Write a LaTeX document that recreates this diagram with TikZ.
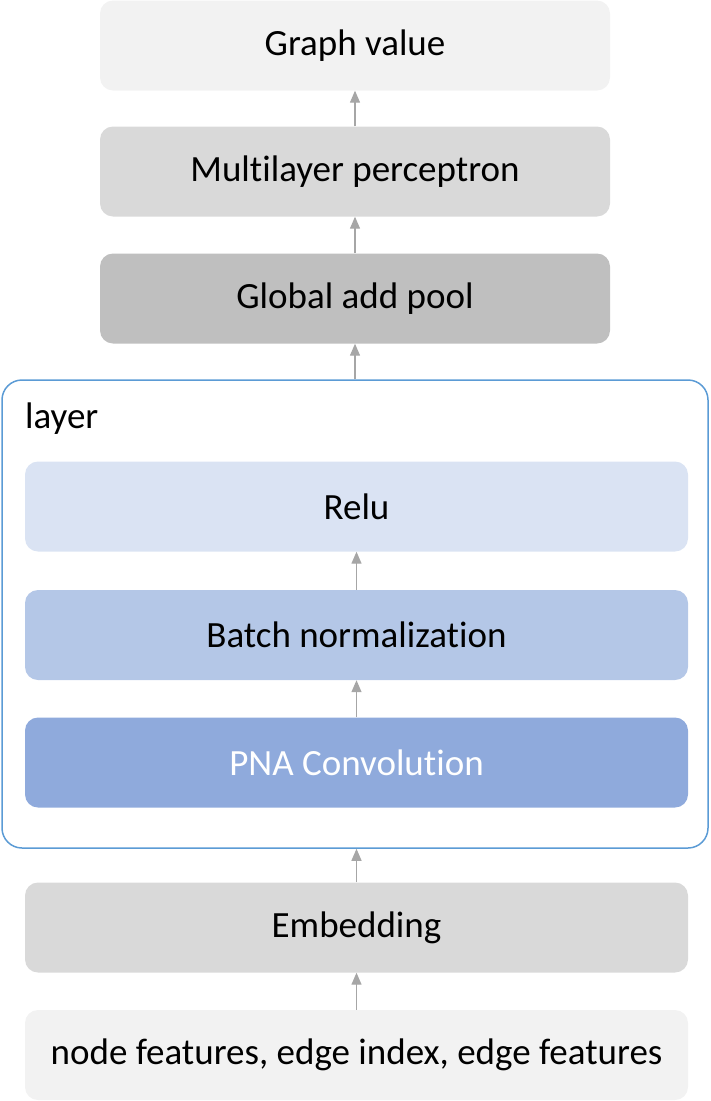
\documentclass[tikz,border=0pt]{standalone}
\usepackage{fontspec}
\setmainfont{Carlito}[Ligatures=NoCommon]
\usepackage{tikz}
\usetikzlibrary{positioning, calc, arrows.meta}
\definecolor{boxlight}{HTML}{F2F2F2}
\definecolor{boxmid}{HTML}{D9D9D9}
\definecolor{boxdark}{HTML}{BFBFBF}
\definecolor{bluelight}{HTML}{DAE3F3}
\definecolor{bluemid}{HTML}{B4C7E7}
\definecolor{bluedark}{HTML}{8FAADC}
\definecolor{layerline}{HTML}{5B9BD5}
\definecolor{arrowgray}{HTML}{A6A6A6}

\begin{document}
\begin{tikzpicture}[x=1pt, y=-1pt,
    font=\fontsize{37}{44}\selectfont,
    blk/.style={rectangle, rounded corners=13pt, inner sep=0pt, text=black},
    narrow/.style={blk, minimum width=510pt, minimum height=90pt},
    wide/.style={blk, minimum width=663pt, minimum height=90pt},
    ->/.style={draw=arrowgray, line width=1.3pt, -{Triangle[width=10pt,length=12pt]}}]
      \useasboundingbox (0,0) rectangle (710,1101);

      \node[narrow, fill=boxlight] (GV) at (355,45.5) {Graph value};
      \node[narrow, fill=boxmid] (MLP) at (355,171.5) {Multilayer perceptron};
      \node[narrow, fill=boxdark] (GAP) at (355,298.5) {Global add pool};

      \node[rectangle, rounded corners=20pt, draw=layerline, line width=1.5pt,
            minimum width=706pt, minimum height=468pt] (Layer) at (355,614) {};
      \node[anchor=base west, inner sep=0pt] (LayerLbl) at (25,428) {layer};

      \node[wide, fill=bluelight] (Relu) at (356.5,506.5) {Relu};
      \node[wide, fill=bluemid] (BN) at (356.5,635) {Batch normalization};
      \node[wide, fill=bluedark, text=white] (PNA) at (356.5,762.5) {PNA Convolution};

      \node[wide, fill=boxmid] (Emb) at (356.5,927.5) {Embedding};
      \node[wide, fill=boxlight] (Inp) at (356.5,1055) {node features, edge index, edge features};

      \draw[->] (node cs:name=Inp) -- (node cs:name=Emb);
      \draw[->] (Emb.north) -- (Emb.north |- Layer.south);
      \draw[->] (node cs:name=PNA) -- (node cs:name=BN);
      \draw[->] (node cs:name=BN) -- (node cs:name=Relu);
      \draw[->] (GAP.south |- Layer.north) -- (GAP.south);
      \draw[->] (node cs:name=GAP) -- (node cs:name=MLP);
      \draw[->] (node cs:name=MLP) -- (node cs:name=GV);
\end{tikzpicture}
\end{document}
